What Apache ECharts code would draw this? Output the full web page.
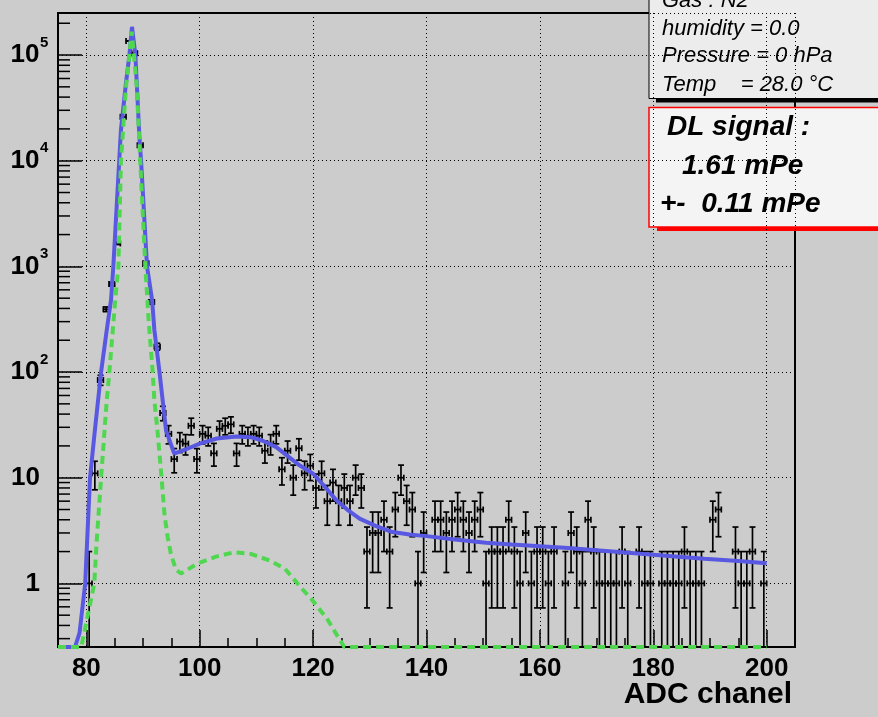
<!DOCTYPE html>
<html>
<head>
<meta charset="utf-8">
<title>DL signal</title>
<script src="https://cdn.jsdelivr.net/npm/echarts@6/dist/echarts.min.js"></script>
<style>
  html, body { margin: 0; padding: 0; background: #cccccc; }
  #chart { width: 878px; height: 717px; }
</style>
</head>
<body>
<div id="chart"></div>
<script>
const FONT = 'Liberation Sans, Arial, Helvetica, sans-serif';
const X_MIN = 75, X_MAX = 205;
const Y_MIN = 0.25, Y_MAX = 250000;

// histogram: bin centres (ADC chanel) and counts
const binCenters = [
  80.5, 81.5, 82.5, 83.5, 84.5, 85.5, 86.5, 87.5, 88.5, 89.5,
  90.5, 91.5, 92.5, 93.5, 94.5, 95.5, 96.5, 97.5, 98.5, 99.5,
  100.5, 101.5, 102.5, 103.5, 104.5, 105.5, 106.5, 107.5, 108.5, 109.5,
  110.5, 111.5, 112.5, 113.5, 114.5, 115.5, 116.5, 117.5, 118.5, 119.5,
  120.5, 121.5, 122.5, 123.5, 124.5, 125.5, 126.5, 127.5, 128.5, 129.5,
  130.5, 131.5, 132.5, 133.5, 134.5, 135.5, 136.5, 137.5, 138.5, 139.5,
  140.5, 141.5, 142.5, 143.5, 144.5, 145.5, 146.5, 147.5, 148.5, 149.5,
  150.5, 151.5, 152.5, 153.5, 154.5, 155.5, 156.5, 157.5, 158.5, 159.5,
  160.5, 161.5, 162.5, 163.5, 164.5, 165.5, 166.5, 167.5, 168.5, 169.5,
  170.5, 171.5, 172.5, 173.5, 174.5, 175.5, 176.5, 177.5, 178.5, 179.5,
  180.5, 181.5, 182.5, 183.5, 184.5, 185.5, 186.5, 187.5, 188.5, 189.5,
  190.5, 191.5, 192.5, 193.5, 194.5, 195.5, 196.5, 197.5, 198.5, 199.5
];
const counts = [
  1, 11, 84, 393, 680, 1650, 26000, 136000, 104000, 14000,
  1070, 460, 174, 41, 26, 15, 22, 21, 31, 15,
  26, 25, 17, 29, 31, 32, 17, 26, 25, 26,
  25, 18, 21, 26, 12, 18, 10, 19, 11, 13,
  8, 11, 6, 9, 6, 8, 6, 10, 8, 2,
  3, 3, 4, 2, 5, 10, 6, 5, 1, 3,
  0, 4, 4, 3, 4, 5, 4, 3, 4, 5,
  1, 2, 2, 2, 4, 2, 1, 3, 1, 2,
  2, 1, 2, 0, 1, 3, 2, 1, 4, 2,
  1, 1, 1, 1, 2, 1, 0, 2, 1, 1,
  0, 1, 1, 1, 1, 2, 1, 1, 1, 0,
  4, 5, 0, 0, 2, 1, 1, 2, 0, 1
];

// total fit (blue)
const fitX = [75, 78, 78.8, 79.8, 80.65, 81.5, 82.6, 83.6, 84.35, 84.76,
  85.8, 86.1, 87.0, 87.6, 88.05, 88.65, 89.35, 89.65, 90.7, 91.6,
  92.0, 92.9, 94.06, 95.5, 97.5, 100, 103, 106.5, 109, 111,
  113.5, 117.6, 120, 122, 124, 126, 128.2, 131, 134, 137,
  140, 145, 150.5, 155, 160, 165, 170.5, 175, 180, 185,
  189, 195, 200];
const fitY = [0.25, 0.25, 0.34, 1.0, 10, 28, 100, 250, 480, 1000,
  10000, 19500, 55000, 100000, 185000, 100000, 17100, 10000, 1000, 480,
  250, 100, 28, 16.9, 18.5, 21, 23.5, 24.6, 24.2, 22.5,
  19.5, 13.1, 10.9, 8.3, 6.2, 5.0, 4.1, 3.5, 3.06, 2.9,
  2.8, 2.6, 2.43, 2.33, 2.25, 2.16, 2.05, 1.96, 1.87, 1.78,
  1.71, 1.63, 1.55];

// pedestal + single photo-electron component (green dashed)
const pedX = [75, 79.1, 80.8, 81.4, 81.8, 82.6, 83.6, 84.06, 85.1, 85.65,
  86.1, 87.0, 88.0, 88.9, 89.5, 90.4, 91.0, 91.7, 92.0, 92.6,
  93.2, 93.8, 94.35, 94.9, 95.8, 96.7, 99.6, 103, 106.1, 109,
  112.3, 115, 118.2, 119.9, 122.6, 124.1, 125.5, 200];
const pedY = [0.25, 0.25, 0.69, 1.0, 2.4, 10, 54, 100, 480, 1000,
  10000, 50000, 166000, 50000, 10000, 1000, 300, 100, 54, 26,
  11, 4.4, 2.74, 1.91, 1.35, 1.24, 1.54, 1.8, 1.97, 1.9,
  1.65, 1.38, 0.87, 0.69, 0.45, 0.33, 0.25, 0.25];

// y tick labels: 1, 10, 10^2 ... 10^5
const yTickValues = [1, 10, 100, 1000, 10000, 100000];
const yTickBase = ['1', '10', '10', '10', '10', '10'];
const yTickSup = ['', '', '2', '3', '4', '5'];

// log minor ticks 2..9 x 10^k inside the range
const yMinorTicks = [];
for (let k = -1; k <= 5; k++) {
  for (let m = 2; m <= 9; m++) {
    const v = m * Math.pow(10, k);
    if (v > Y_MIN && v < Y_MAX) yMinorTicks.push([X_MIN, v]);
  }
}

const histData = [];
binCenters.forEach((x, i) => {
  if (counts[i] > 0) histData.push([x, counts[i]]);
});

function renderErrorBar(params, api) {
  const x = api.value(0);
  const n = api.value(1);
  const e = Math.sqrt(n);
  const clippedLow = n - e <= Y_MIN;
  const top = api.coord([x, Math.min(n + e, Y_MAX)]);
  const bot = api.coord([x, clippedLow ? Y_MIN : n - e]);
  const left = api.coord([x - 0.5, n]);
  const right = api.coord([x + 0.5, n]);
  const style = { stroke: '#000', lineWidth: 1.7 };
  const c = 3;
  const seg = (x1, y1, x2, y2) => ({ type: 'line', shape: { x1, y1, x2, y2 }, style });
  const children = [
    seg(top[0], top[1], bot[0], bot[1]),
    seg(left[0], left[1], right[0], right[1]),
    seg(top[0] - c, top[1], top[0] + c, top[1]),
    seg(left[0], left[1] - c, left[0], left[1] + c),
    seg(right[0], right[1] - c, right[0], right[1] + c)
  ];
  if (!clippedLow) children.push(seg(bot[0] - c, bot[1], bot[0] + c, bot[1]));
  return { type: 'group', children };
}

function renderMinorTick(params, api) {
  const p = api.coord([api.value(0), api.value(1)]);
  return {
    type: 'line',
    shape: { x1: p[0], y1: p[1], x2: p[0] + 12, y2: p[1] },
    style: { stroke: '#000', lineWidth: 1.5 }
  };
}

const chart = echarts.init(document.getElementById('chart'));

chart.setOption({
  backgroundColor: '#cccccc',
  animation: false,
  grid: {
    left: 58, top: 13, right: 83, bottom: 70,
    show: true, borderColor: '#000', borderWidth: 2, backgroundColor: 'transparent'
  },
  xAxis: {
    type: 'value',
    min: X_MIN,
    max: X_MAX,
    splitNumber: 6,
    axisLine: { lineStyle: { color: '#000', width: 2 } },
    axisTick: { inside: true, length: 17, lineStyle: { color: '#000', width: 1.5 } },
    minorTick: { show: true, splitNumber: 4, length: 9, lineStyle: { color: '#000', width: 1.5 } },
    axisLabel: {
      showMinLabel: false, showMaxLabel: false,
      margin: 9, color: '#000', fontSize: 26, fontWeight: 'bold', fontFamily: FONT
    },
    splitLine: { show: true, lineStyle: { color: '#000', width: 1, type: [1, 3] } }
  },
  yAxis: {
    type: 'log',
    logBase: 10,
    min: Y_MIN,
    max: Y_MAX,
    axisLine: { show: true, lineStyle: { color: '#000', width: 2 } },
    axisTick: { inside: true, length: 24, lineStyle: { color: '#000', width: 1.5 } },
    axisLabel: {
      showMinLabel: false, showMaxLabel: false,
      align: 'left',
      margin: 48,
      color: '#000',
      formatter: function (v) {
        const i = yTickValues.findIndex(t => Math.abs(t - v) < 1e-6 * t);
        if (i < 0) return '';
        return '{b|' + yTickBase[i] + '}' + (yTickSup[i] ? '{s|' + yTickSup[i] + '}' : '');
      },
      rich: {
        b: { fontSize: 26, fontWeight: 'bold', fontFamily: FONT, width: 30, align: 'right', lineHeight: 40, color: '#000' },
        s: { fontSize: 15, fontWeight: 'bold', fontFamily: FONT, verticalAlign: 'top', lineHeight: 16, color: '#000' }
      }
    },
    splitLine: { show: true, lineStyle: { color: '#000', width: 1, type: [1, 3] } }
  },
  series: [
    {
      type: 'custom',
      name: 'minor ticks',
      silent: true,
      clip: false,
      z: 1,
      data: yMinorTicks,
      renderItem: renderMinorTick
    },
    {
      type: 'custom',
      name: 'data',
      z: 2,
      clip: true,
      data: histData,
      renderItem: renderErrorBar
    },
    {
      type: 'line',
      name: 'fit',
      z: 3,
      symbol: 'none',
      clip: true,
      data: fitX.map((x, i) => [x, fitY[i]]),
      lineStyle: { color: '#5858e2', width: 4 }
    },
    {
      type: 'line',
      name: 'pedestal',
      z: 4,
      symbol: 'none',
      clip: true,
      data: pedX.map((x, i) => [x, pedY[i]]),
      lineStyle: { color: '#4fd84f', width: 4, type: [8, 5] }
    }
  ],
  graphic: [
    {
      type: 'group', z: 100,
      children: [
        { type: 'rect', shape: { x: 656, y: 98, width: 240, height: 4.5 }, style: { fill: '#000' } },
        { type: 'rect', shape: { x: 649, y: -20, width: 250, height: 118.5 },
          style: { fill: '#ececec', stroke: '#000', lineWidth: 1 } },
        { type: 'text', x: 662, y: 0.5, style: { text: 'Gas : N2', font: 'italic 22px ' + FONT, fill: '#000', verticalAlign: 'middle' } },
        { type: 'text', x: 662, y: 28.5, style: { text: 'humidity = 0.0', font: 'italic 22px ' + FONT, fill: '#000', verticalAlign: 'middle' } },
        { type: 'text', x: 662, y: 56, style: { text: 'Pressure = 0 hPa', font: 'italic 22px ' + FONT, fill: '#000', verticalAlign: 'middle' } },
        { type: 'text', x: 662, y: 84.5, style: { text: 'Temp    = 28.0 \u00b0C', font: 'italic 22px ' + FONT, fill: '#000', verticalAlign: 'middle' } },

        { type: 'rect', shape: { x: 657, y: 226.5, width: 240, height: 4.5 }, style: { fill: '#ff0000' } },
        { type: 'rect', shape: { x: 649, y: 107.5, width: 250, height: 119.5 },
          style: { fill: '#f4f4f4', stroke: '#ff0000', lineWidth: 1.5 } },
        { type: 'text', x: 667, y: 127.5, style: { text: 'DL signal :', font: 'italic bold 28px ' + FONT, fill: '#000', verticalAlign: 'middle' } },
        { type: 'text', x: 682, y: 166, style: { text: '1.61 mPe', font: 'italic bold 28px ' + FONT, fill: '#000', verticalAlign: 'middle' } },
        { type: 'text', x: 660, y: 204, style: { text: '+-  0.11 mPe', font: 'italic bold 28px ' + FONT, fill: '#000', verticalAlign: 'middle' } }
      ]
    },
    {
      type: 'text', z: 100,
      right: 86, top: 680,
      style: { text: 'ADC chanel', font: 'bold 30px ' + FONT, fill: '#000' }
    }
  ]
});

window.addEventListener('resize', () => chart.resize());
</script>
</body>
</html>
